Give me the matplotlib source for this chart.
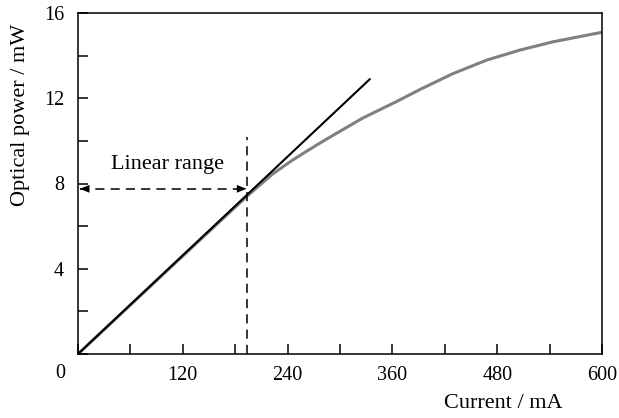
import matplotlib
matplotlib.use("agg")
from matplotlib import pyplot as plt
from matplotlib.ticker import MultipleLocator
import numpy as np

# measured curve (grey) and linear fit (black)
current = [0, 60, 120, 195, 223, 245, 262, 282, 300, 326, 365, 392, 429, 468, 506, 544, 598]
power = [0, 2.3, 4.6, 7.46, 8.45, 9.08, 9.52, 10.02, 10.45, 11.07, 11.85, 12.42, 13.15, 13.79, 14.26, 14.65, 15.08]
fit_current = [0, 334]
fit_power = [0, 12.89]
threshold_current = 194
threshold_top = 10.2
range_power = 7.75

xticks = [120, 240, 360, 480, 600]
yticks = [4, 8, 12, 16]

plt.rcParams['font.family'] = ['Liberation Serif', 'DejaVu Serif']
tick_fs = 14.5
label_fs = 16

fig = plt.figure(figsize=(6.19, 4.18), dpi=100)
ax = fig.add_axes([78/619, 1-354/418, 524/619, 341/418])

ax.plot(current, power, color='#808080', lw=2.2, solid_joinstyle='round')
ax.plot(fit_current, fit_power, color='black', lw=1.5)

ax.plot([threshold_current, threshold_current], [0, threshold_top], color='black',
        lw=1.1, linestyle=(0, (6, 4)))
ax.plot([2, threshold_current - 3], [range_power, range_power], color='black',
        lw=1.1, linestyle=(0, (6, 4)))
for x0, x1 in [(20, 2), (threshold_current - 20, threshold_current - 1)]:
    ax.annotate('', xy=(x1, range_power), xytext=(x0, range_power),
                arrowprops=dict(arrowstyle='-|>,head_length=0.7,head_width=0.28',
                                color='black', lw=0, shrinkA=0, shrinkB=0))
ax.text(102, 8.87, 'Linear range', ha='center', va='center', fontsize=label_fs)

ax.set_xlim(0, 600)
ax.set_ylim(0, 16)
ax.set_xticks(xticks)
ax.set_yticks(yticks)
ax.xaxis.set_minor_locator(MultipleLocator(60))
ax.yaxis.set_minor_locator(MultipleLocator(2))
ax.tick_params(which='both', direction='in', length=7, width=1.1, labelsize=tick_fs)
ax.tick_params(axis='x', pad=9)
ax.tick_params(axis='y', pad=10)
for s in ax.spines.values():
    s.set_linewidth(1.1)
ax.text(-0.034, -0.058, '0', transform=ax.transAxes, ha='center', va='center',
        fontsize=tick_fs)

ax.set_xlabel('Current / mA', fontsize=label_fs, va='center')
ax.xaxis.set_label_coords(0.811, -0.144)
ax.set_ylabel('Optical power / mW', fontsize=label_fs, va='center')
ax.yaxis.set_label_coords(-0.11, 0.70)

plt.savefig("out.png", dpi=100)
